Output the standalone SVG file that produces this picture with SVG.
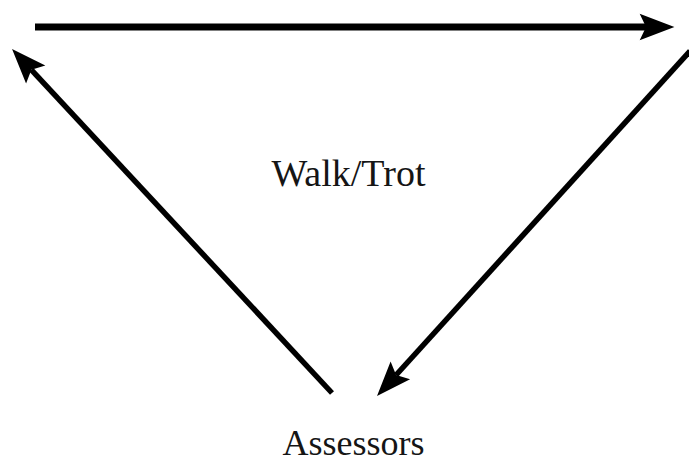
<svg xmlns="http://www.w3.org/2000/svg" width="689" height="465" viewBox="0 0 689 465">
<style>
.lbl{font-family:"Liberation Serif","Times New Roman",serif;fill:#151515;text-anchor:middle}
.ln{stroke:#000;fill:none;stroke-linecap:butt}
</style>
<defs>
<marker id="ah" markerUnits="userSpaceOnUse" markerWidth="40" markerHeight="30" viewBox="-8 -14 38 28" refX="0" refY="0" orient="auto">
<path d="M27,0 L-6,-12.5 L0,0 L-6,12.5 Z" fill="#000"/>
</marker>
</defs>
<rect width="689" height="465" fill="#fff"/>
<g id="connectors">
<line class="ln" x1="35" y1="27" x2="646" y2="27" stroke-width="7" marker-end="url(#ah)"/>
<line class="ln" x1="332" y1="393" x2="31.4" y2="69.8" stroke-width="5.5" marker-end="url(#ah)"/>
<line class="ln" x1="690" y1="51" x2="396.1" y2="375" stroke-width="5.5" marker-end="url(#ah)"/>
</g>
<g id="walk-trot"><text class="lbl" x="348.5" y="186" font-size="38">Walk/Trot</text></g>
<g id="assessors"><text class="lbl" x="353.5" y="455" font-size="36">Assessors</text></g>
</svg>
